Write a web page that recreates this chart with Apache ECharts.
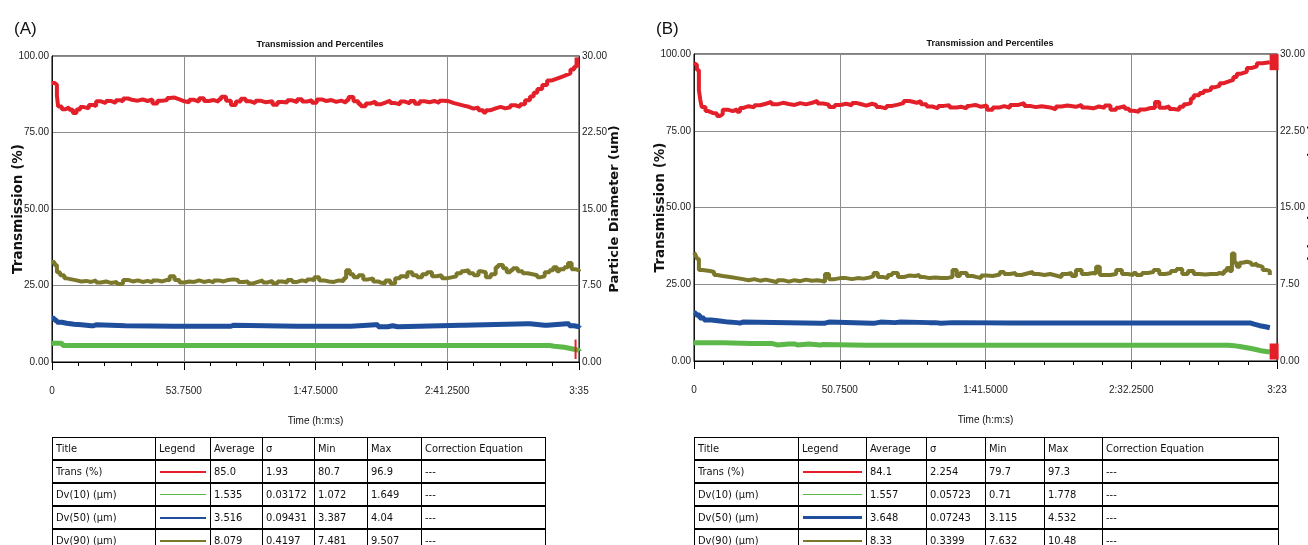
<!DOCTYPE html>
<html>
<head>
<meta charset="utf-8">
<script src="https://cdn.jsdelivr.net/npm/echarts@6/dist/echarts.min.js"></script>
<style>
html, body { margin: 0; padding: 0; background: #fff; overflow: hidden; width: 1308px; height: 545px; }
#chart { position: absolute; left: 0; top: 0; width: 1308px; height: 545px; }
.tbl { position: absolute; top: 437px; border-collapse: collapse; table-layout: fixed;
       font-family: "Liberation Sans Narrow", "DejaVu Sans Condensed", sans-serif; font-size: 11px; color: #111; }
.tbl td { border-left: 1px solid #000; border-right: 1px solid #000; border-bottom: 2px solid #000;
          height: 21px; padding: 0 3px; white-space: nowrap; overflow: hidden; }
.tbl tr:first-child td { border-top: 1px solid #000; }
.leg { margin: 0 1px; }
</style>
</head>
<body>
<div id="chart"></div>
<script>
// 时间轴 (秒)
var timeMaxA = 215;
var timeMaxB = 203;
var xLabelsA = ['0', '53.7500', '1:47.5000', '2:41.2500', '3:35'];
var xLabelsB = ['0', '50.7500', '1:41.5000', '2:32.2500', '3:23'];

// (A) Trans (%)
var transA = [[0,91.2],[1,90.6],[2,87],[2.5,83.5],[4,82.6],[5.5,83.2],[7,82.4],[8.5,81.4],[10,82.5],[11.5,83.3],[13,82.9],[15,84],[17,83.6],[18,85.2],[20,84.6],[22,85.3],[24,84.7],[26,85.5],[28,85.2],[29,86.1],[31,85.6],[33,85.4],[35,85.8],[37,85.3],[39,85.8],[41,84.5],[43,85.4],[45,85.6],[47,86.3],[48,86.4],[50,85.8],[52,85.2],[54,84.9],[56,85.7],[58,85.1],[60,86.2],[62,85.3],[64,85.6],[66,85.1],[68,85.9],[69,86.7],[71,85.4],[73,84.0],[75,85.1],[77,86.0],[79,85.2],[81,84.6],[83,85.4],[85,84.9],[87,85.2],[90,84.1],[92,85.0],[94,84.8],[96,85.5],[98,84.9],[100,85.9],[102,85.1],[104,85.6],[106,84.7],[108,85.8],[110,85.3],[112,85.6],[114,85.0],[116,85.4],[118,84.8],[120,85.5],[121,86.6],[123,85.2],[125,84.3],[126,83.6],[128,84.5],[130,85.1],[132,84.2],[134,84.8],[136,85.4],[138,84.6],[140,84.2],[142,85.1],[144,84.5],[146,85.3],[148,84.4],[150,85.2],[152,84.9],[154,85.3],[156,84.7],[158,85.4],[160,85.2],[162,84.6],[164,84.2],[166,83.8],[168,83.4],[170,82.8],[172,83.2],[174,82.3],[176,81.5],[177,82.3],[179,82.9],[181,83.4],[183,82.9],[185,83.2],[187,83.9],[189,83.4],[191,84.2],[193,85.5],[195,86.8],[196.5,88.0],[198,89.2],[200,90.5],[202,92.0],[204,92.6],[206,93.2],[208,93.8],[210,94.3],[211.5,95.6],[213,96.5],[214,99.5],[214.5,96.6],[215,97.0]];
// (A) Dv(10)
var dv10A = [[0,1.85],[4,1.85],[4.5,1.62],[100,1.62],[200,1.62],[203,1.55],[205,1.5],[207,1.45],[209,1.35],[211,1.25],[213,1.15],[215,1.07]];
// (A) Dv(50)
var dv50A = [[0,4.3],[1,4.1],[2,3.9],[4,3.8],[6,3.7],[9,3.65],[12,3.55],[16,3.55],[17,3.65],[18,3.55],[30,3.5],[50,3.5],[72,3.5],[73,3.6],[74,3.5],[100,3.5],[121,3.5],[122,3.65],[132,3.65],[133,3.45],[136,3.45],[137,3.55],[139,3.45],[141,3.6],[167,3.6],[168,3.75],[194,3.75],[195,3.6],[201,3.6],[202,3.75],[210,3.75],[211,3.55],[213,3.45],[215,3.55]];
// (A) Dv(90)
var dv90A = [[0,9.8],[1,9.5],[2,8.8],[3.3,8.5],[5,8.2],[6,8.1],[8,8.0],[10,7.9],[12,7.95],[14,7.85],[16,8.0],[18,7.8],[20,7.9],[22,7.75],[24,7.85],[26.5,7.65],[28,7.7],[29,8.05],[31,7.9],[33,8.0],[35,7.85],[37,7.95],[39,7.8],[41,8.0],[43,7.9],[45,8.05],[47,8.0],[48,8.4],[50,8.05],[52,7.8],[54,7.9],[56,7.85],[58,8.0],[60,7.85],[62,7.95],[64,7.8],[66,8.0],[68,7.9],[70,8.05],[72,8.1],[74,8.05],[76,7.85],[78,7.9],[80,7.7],[82,7.85],[84,8.0],[86,7.8],[88,7.95],[90,7.7],[92,7.9],[94,7.8],[96,8.05],[98,7.85],[100,8.0],[102,7.9],[104,8.1],[106,8.0],[107,8.3],[109,8.0],[111,7.9],[113,7.85],[115,8.0],[117,7.95],[119,8.2],[120,9.0],[121.5,8.6],[123,8.3],[125,8.5],[127,8.1],[129,8.2],[131,7.9],[133,7.8],[134,7.7],[136,8.0],[138,7.7],[140,8.2],[142,8.4],[144,8.3],[145,8.8],[147,8.5],[149,8.3],[151,8.6],[153,8.8],[155,8.4],[157,8.5],[159,8.2],[161,8.3],[163,8.4],[165,8.7],[167,8.9],[168,9.0],[170,8.7],[172,8.5],[174,8.9],[175,8.8],[177,8.3],[179,8.6],[181,9.3],[182,9.5],[184,9.2],[185.5,8.8],[187,9.0],[188,9.2],[190,8.9],[192,8.7],[194,8.6],[196,8.5],[198,8.3],[199,8.4],[201,8.8],[203,9.0],[204.5,9.3],[206,8.9],[207,9.1],[209,9.3],[210.5,9.7],[212,9.1],[213.5,9.0],[215,8.9]];
// (A) 末端标记
var markA = [[213.6,0.3],[213.6,2.2]];

// (B) Trans (%)
var transB = [[0,97.0],[0.5,96.5],[1,94.8],[1.7,88.3],[2.2,85],[2.7,82.7],[4,81.4],[5,80.8],[6.5,80.6],[8,79.8],[9,80.4],[10,81.8],[12,81.4],[13.5,82.0],[15,81.2],[16,82.4],[17,83.0],[19,82.6],[21,83.3],[23,83.8],[25,84.4],[27,83.6],[29,84.1],[31,83.7],[33,83.4],[35,84.0],[37,83.6],[39,84.2],[41.5,84.7],[43,83.9],[45,83.5],[47,82.7],[49,83.4],[51,83.8],[53,83.3],[55,84.0],[56.7,83.7],[58,83.2],[60,83.8],[62,83.4],[63.5,82.7],[65,82.3],[67,83.1],[69,83.5],[71,84.0],[73,84.7],[75,84.1],[77.6,84.7],[79,83.6],[81,82.9],[83,82.3],[85,83.1],[87,83.3],[89,82.6],[91.5,82.8],[93,82.3],[95,83.1],[96,83.4],[98,82.8],[100,83.2],[102,81.8],[104,82.6],[106.5,83.0],[108,82.5],[110,83.4],[113,84.0],[115,83.1],[117,82.7],[119,83.0],[121,82.6],[124,82.0],[126,82.9],[128,83.2],[130,82.8],[133,83.4],[135,82.6],[137,82.3],[139,82.9],[141,82.5],[143,83.2],[145,81.8],[147,82.5],[148,83.0],[150,82.2],[151.5,81.5],[153,81.2],[155,81.9],[157,82.4],[159,82.4],[160.5,84.4],[162,82.5],[164,82.9],[165.5,82.1],[167,81.8],[169,82.8],[170.5,83.6],[171.5,84.0],[173,85.5],[174,86.6],[176,87.3],[177.5,88.0],[178.7,88.3],[180,89.2],[181.5,89.6],[183,90.5],[184.5,91.0],[186,91.6],[187.8,92.5],[189,93.6],[190.5,94.2],[192.5,95.4],[194,96.0],[196,97.0],[198,97.3],[200.5,97.2]];
// (B) Dv(10)
var dv10B = [[0,1.78],[8,1.78],[10,1.72],[20,1.72],[27,1.57],[29,1.67],[33,1.67],[35,1.57],[36,1.67],[40,1.57],[44,1.62],[45,1.55],[60,1.55],[100,1.55],[150,1.55],[184,1.55],[186,1.5],[188,1.42],[190,1.32],[192,1.22],[194,1.1],[196,0.97],[198,0.87],[200.5,0.82]];
// (B) Dv(50)
var dv50B = [[0,4.7],[0.7,4.5],[2,4.2],[3.5,4.0],[6,3.9],[9,3.8],[12,3.75],[15,3.7],[16,3.8],[17,3.7],[44,3.7],[45.6,3.8],[47,3.7],[62,3.7],[63,3.8],[65,3.75],[70,3.8],[72,3.75],[82,3.75],[84,3.7],[86,3.75],[90,3.75],[92,3.72],[110,3.72],[140,3.72],[180,3.72],[192,3.72],[193.6,3.6],[195,3.45],[197,3.35],[199,3.25],[200.5,3.2]];
// (B) Dv(90)
var dv90B = [[0,10.6],[0.5,10.4],[1,10.0],[1.7,8.9],[3,8.8],[5.6,8.7],[7,8.4],[8,8.3],[10,8.2],[12.5,8.1],[15,8.0],[17,7.9],[19,8.0],[21,7.85],[23,7.95],[25,7.8],[27.5,7.7],[29,7.9],[31,7.75],[33,7.9],[35,7.8],[37,7.95],[39,7.85],[41,7.9],[43,7.85],[44,7.75],[45.6,8.5],[47,8.0],[49,8.1],[51,8.1],[53,8.0],[55,8.1],[57,8.05],[59,8.15],[61,8.3],[62.5,8.6],[64,8.2],[66,8.1],[67.5,8.4],[69,8.6],[71,8.2],[73,8.35],[75,8.3],[77,8.4],[78.5,8.2],[80,8.1],[82,8.15],[84,8.1],[86,8.1],[88,8.2],[90,8.9],[91.5,8.3],[92.6,8.6],[95,8.3],[97,8.2],[98.5,8.1],[100,8.35],[102,8.3],[104,8.45],[106.5,8.7],[108,8.5],[110,8.6],[112,8.4],[114,8.55],[116,8.7],[118,8.5],[120,8.4],[122,8.5],[124,8.35],[126,8.2],[128,8.5],[130,8.6],[131.5,8.3],[133,8.9],[135,8.5],[137,8.6],[139,8.55],[140,9.2],[141.3,8.4],[143,8.4],[145,8.5],[147,8.9],[149,8.5],[151,8.4],[153,8.6],[154,8.4],[156,8.6],[158,8.7],[160,8.9],[162,8.5],[164,8.6],[166,8.8],[168,9.0],[170,8.5],[172,8.8],[174,8.5],[176,8.45],[178,8.5],[180,8.5],[182,8.6],[183,8.5],[184.5,8.8],[185.5,9.1],[186.5,8.8],[187.3,10.5],[188.2,9.6],[189,9.2],[190,9.6],[191,9.7],[192.5,9.6],[194,9.4],[194.7,9.5],[196,9.3],[197,9.2],[198,8.9],[199.2,8.8],[200.5,8.4]];
// (B) 末端标记
var markB = [[202,29.2],[202,0.93]];

// 表格数据
var tableHead = ['Title', 'Legend', 'Average', 'σ', 'Min', 'Max', 'Correction Equation'];
var rowTitles = ['Trans (%)', 'Dv(10) (µm)', 'Dv(50) (µm)', 'Dv(90) (µm)'];
var statsA = [['85.0', '1.93', '80.7', '96.9'], ['1.535', '0.03172', '1.072', '1.649'], ['3.516', '0.09431', '3.387', '4.04'], ['8.079', '0.4197', '7.481', '9.507']];
var statsB = [['84.1', '2.254', '79.7', '97.3'], ['1.557', '0.05723', '0.71', '1.778'], ['3.648', '0.07243', '3.115', '4.532'], ['8.33', '0.3399', '7.632', '10.48']];
var correction = ['---', '---', '---', '---'];

var RED = '#e3202a', GREEN = '#5cb848', BLUE = '#1f4e9c', OLIVE = '#7b782b';
var seriesColors = [RED, GREEN, BLUE, OLIVE];
var LABEL_FONT = '"Liberation Sans", Arial, sans-serif';

//X轴
function xAxisOf(gi, tmax, labels) {
    var step = tmax / 4;
    return {
        gridIndex: gi, type: 'value', min: 0, max: tmax, interval: step,
        name: 'Time (h:m:s)', nameLocation: 'middle', nameGap: 54, nameMoveOverlap: false,
        nameTextStyle: { fontFamily: LABEL_FONT, fontSize: 10, color: '#111' },
        axisLine: { show: true, lineStyle: { color: '#000', width: 1 } },
        axisTick: { show: true, length: 8, lineStyle: { color: '#000' } },
        minorTick: { show: true, splitNumber: 5, length: 4, lineStyle: { color: '#000' } },
        splitLine: { show: true, lineStyle: { color: '#8c8c8c', width: 1 } },
        axisLabel: {
            margin: 24, fontFamily: LABEL_FONT, fontSize: 10, color: '#222',
            formatter: function (v) { return labels[Math.round(v / step)]; }
        }
    };
}

//左Y轴
function transAxisOf(gi) {
    return {
        gridIndex: gi, type: 'value', position: 'left', min: 0, max: 100, interval: 25,
        name: 'Transmission (%)', nameLocation: 'middle', nameGap: 27, nameRotate: 90,
        nameMoveOverlap: false,
        nameTextStyle: { fontFamily: 'DejaVu Sans', fontWeight: 'bold', fontSize: 13.5, color: '#111' },
        axisLine: { show: true, lineStyle: { color: '#111' } },
        axisTick: { show: false },
        axisLabel: { margin: 3, fontFamily: LABEL_FONT, fontSize: 10, color: '#222',
            formatter: function (v) { return v.toFixed(2); } },
        splitLine: { show: true, lineStyle: { color: '#8c8c8c', width: 1 } }
    };
}

//右Y轴
function sizeAxisOf(gi, gap) {
    return {
        gridIndex: gi, type: 'value', position: 'right', min: 0, max: 30, interval: 7.5,
        name: 'Particle Diameter (um)', nameLocation: 'middle', nameGap: gap, nameRotate: 90,
        nameMoveOverlap: false,
        nameTextStyle: { fontFamily: 'DejaVu Sans', fontWeight: 'bold', fontSize: 13, color: '#111' },
        axisLine: { show: true, lineStyle: { color: '#333' } },
        axisTick: { show: false },
        axisLabel: { margin: 3, fontFamily: LABEL_FONT, fontSize: 10, color: '#222',
            formatter: function (v) { return v.toFixed(2); } },
        splitLine: { show: false }
    };
}

function lineOf(data, color, width, xi, yi) {
    return {
        type: 'line', xAxisIndex: xi, yAxisIndex: yi, data: data, step: 'end',
        showSymbol: false, lineStyle: { color: color, width: width }, itemStyle: { color: color },
        z: 3
    };
}

var option = {
    animation: false,
    backgroundColor: '#fff',
    title: [
        { text: '(A)', left: 9, top: 16, textStyle: { fontFamily: LABEL_FONT, fontWeight: 'normal', fontSize: 17, color: '#111' } },
        { text: '(B)', left: 651, top: 16, textStyle: { fontFamily: LABEL_FONT, fontWeight: 'normal', fontSize: 17, color: '#111' } },
        { text: 'Transmission and Percentiles', left: 315, top: 35, textAlign: 'center', textStyle: { fontFamily: LABEL_FONT, fontWeight: 'bold', fontSize: 9, color: '#111' } },
        { text: 'Transmission and Percentiles', left: 985, top: 34, textAlign: 'center', textStyle: { fontFamily: LABEL_FONT, fontWeight: 'bold', fontSize: 9, color: '#111' } }
    ],
    grid: [
        { left: 52, top: 56, width: 527, height: 306, show: true, borderColor: '#000', borderWidth: 1, outerBoundsMode: 'none', containLabel: false },
        { left: 694, top: 54, width: 583, height: 307, show: true, borderColor: '#000', borderWidth: 1, outerBoundsMode: 'none', containLabel: false }
    ],
    xAxis: [xAxisOf(0, timeMaxA, xLabelsA), xAxisOf(1, timeMaxB, xLabelsB)],
    yAxis: [transAxisOf(0), sizeAxisOf(0, 29), transAxisOf(1), sizeAxisOf(1, 30)],
    series: [
        lineOf(dv10A, GREEN, 5, 0, 1),
        lineOf(dv50A, BLUE, 5, 0, 1),
        lineOf(dv90A, OLIVE, 4, 0, 1),
        lineOf(transA, RED, 4, 0, 0),
        { type: 'line', xAxisIndex: 0, yAxisIndex: 1, data: markA, showSymbol: false,
          lineStyle: { color: RED, width: 2 }, z: 4 },
        lineOf(dv10B, GREEN, 5, 1, 3),
        lineOf(dv50B, BLUE, 5, 1, 3),
        lineOf(dv90B, OLIVE, 4, 1, 3),
        lineOf(transB, RED, 4, 1, 2),
        { type: 'scatter', xAxisIndex: 1, yAxisIndex: 3, data: markB, symbol: 'rect',
          symbolSize: [9, 16], itemStyle: { color: RED, opacity: 1 }, z: 4 }
    ]
};

var myChart = echarts.init(document.getElementById('chart'), null, { renderer: 'canvas' });
myChart.setOption(option);

//表格
function buildTable(left, colWidths, stats, legendWidths) {
    var html = '<table class="tbl" style="left:' + left + 'px">';
    html += '<colgroup>';
    for (var c = 0; c < colWidths.length; c++) {
        html += '<col style="width:' + colWidths[c] + 'px">';
    }
    html += '</colgroup><tr>';
    for (var h = 0; h < tableHead.length; h++) {
        html += '<td>' + tableHead[h] + '</td>';
    }
    html += '</tr>';
    for (var r = 0; r < rowTitles.length; r++) {
        html += '<tr><td>' + rowTitles[r] + '</td>';
        html += '<td><div class="leg" style="height:' + legendWidths[r] + 'px;background-color:' + seriesColors[r] + '"></div></td>';
        for (var k = 0; k < stats[r].length; k++) {
            html += '<td>' + stats[r][k] + '</td>';
        }
        html += '<td>' + correction[r] + '</td></tr>';
    }
    html += '</table>';
    document.body.insertAdjacentHTML('beforeend', html);
}

buildTable(52, [103, 55, 52, 52, 53, 54, 124], statsA, [2, 1, 2, 2]);
buildTable(694, [104, 68, 60, 59, 59, 58, 176], statsB, [2, 1, 3, 2]);
</script>
</body>
</html>
